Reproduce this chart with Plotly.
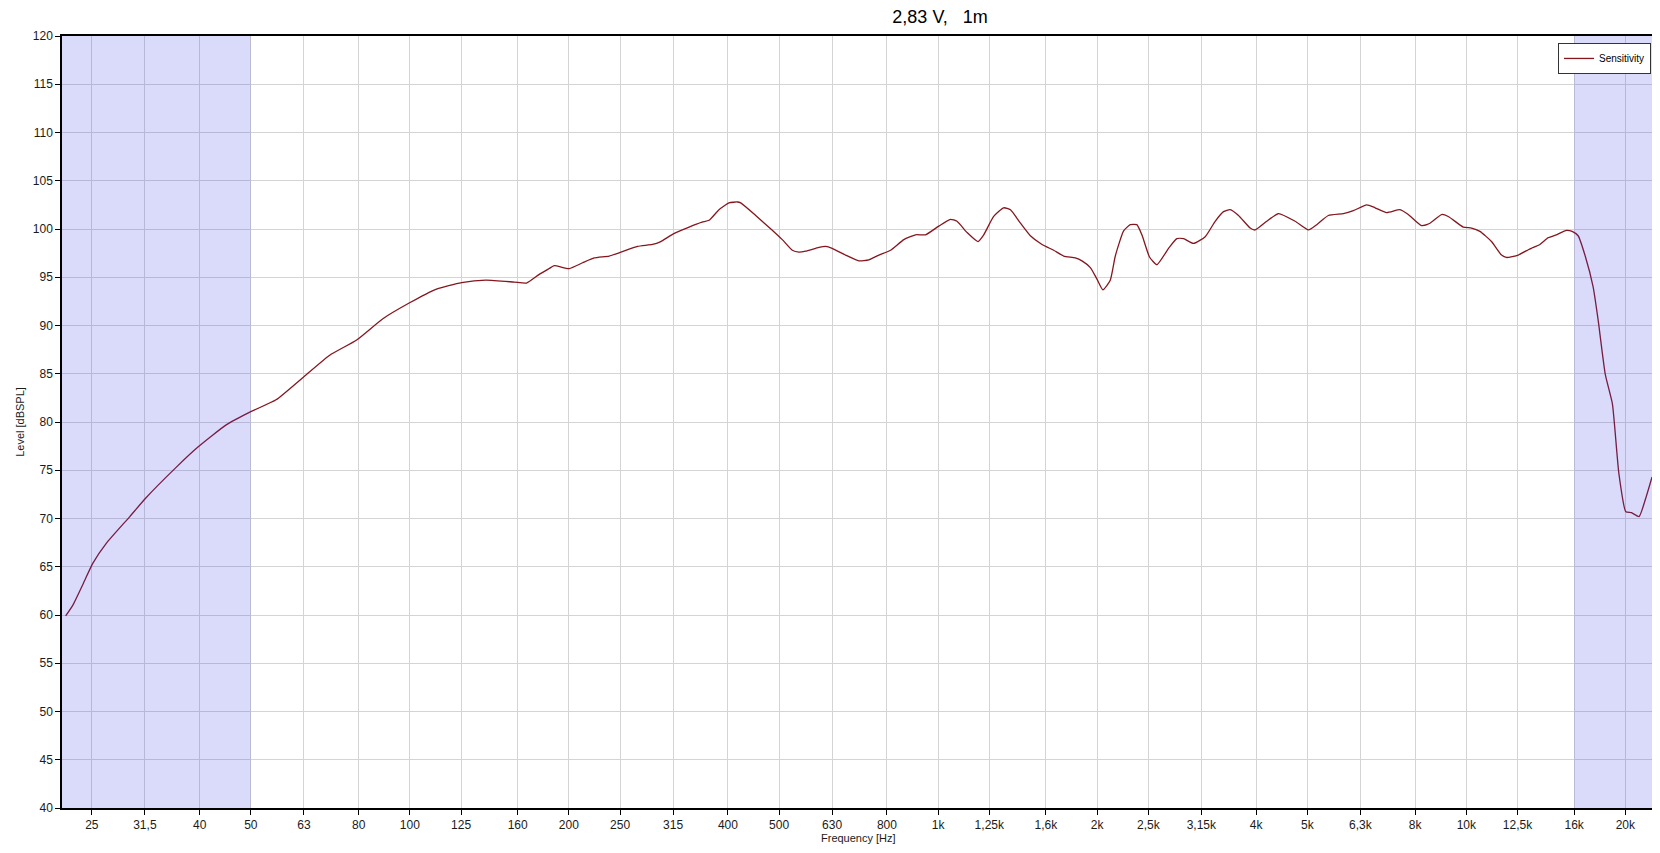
import math
import plotly.graph_objects as go

# ---- data ----
freq_hz = [22.3, 23.0, 24.1, 25.1, 26.6, 29.5, 31.6, 36.1, 39.7, 44.9, 50.1, 55.8, 63, 70.4, 79.3,
           88.9, 99.5, 112, 125.3, 139.3, 157.6, 166.3, 175.8, 183.5, 187.6, 200.3, 212.3, 223.3,
           238.4, 250.9, 269.7, 287.9, 298.5, 315.4, 337.8, 357.4, 368.5, 384.8, 402, 416.8, 423,
           451.5, 484.8, 507, 529.6, 545.3, 561.4, 594.9, 612.5, 630.2, 668, 707.9, 739.4, 772.4,
           812.8, 861.2, 906.5, 946.7, 1003, 1055, 1086, 1134, 1190, 1220, 1274, 1331, 1371, 1432,
           1495, 1573, 1655, 1729, 1819, 1872, 1942, 1999, 2051, 2118, 2165, 2245, 2311, 2378, 2431,
           2513, 2595, 2731, 2831, 2915, 3044, 3204, 3346, 3470, 3573, 3704, 3897, 3983, 4190, 4410,
           4741, 5024, 5210, 5480, 5851, 6111, 6477, 6718, 7066, 7489, 7765, 8229, 8535, 8976, 9243,
           9866, 10230, 10610, 11160, 11660, 11910, 12540, 13100, 13270, 13780, 14290, 14810, 15470,
           15860, 16280, 16790, 17380, 17760, 18330, 18900, 19440, 20040, 20540, 21230, 21860, 22470]
level_db = [59.9, 61.0, 63.3, 65.35, 67.4, 70.2, 72.1, 75.3, 77.4, 79.7, 81.1, 82.3, 84.7, 86.9, 88.5,
            90.7, 92.3, 93.75, 94.44, 94.7, 94.5, 94.4, 95.3, 95.9, 96.2, 95.9, 96.5, 97.0,
            97.2, 97.6, 98.2, 98.4, 98.7, 99.5, 100.2, 100.7, 100.9, 102.0, 102.7, 102.8, 102.7,
            101.4, 99.9, 98.9, 97.8, 97.6, 97.7, 98.1, 98.2, 98.0, 97.3, 96.7, 96.8, 97.3,
            97.8, 98.9, 99.4, 99.4, 100.3, 101.0, 100.8, 99.65, 98.7, 99.4, 101.3, 102.2, 102.0, 100.6,
            99.3, 98.4, 97.8, 97.2, 97.0, 96.7, 96.0, 94.8, 93.7, 94.7, 97.2, 99.8, 100.45, 100.45, 99.4,
            97.1, 96.3, 98.0, 99.0, 99.0, 98.5, 99.2, 100.8, 101.8, 102.0, 101.4, 100.1, 99.9, 100.8, 101.6,
            100.8, 99.9, 100.45, 101.4, 101.6, 101.9, 102.5, 102.2, 101.7, 102.0, 101.5, 100.35, 100.6, 101.5, 101.3,
            100.2, 100.1, 99.76, 98.7, 97.3, 97.05, 97.3, 97.85, 98.0, 98.4, 99.1, 99.4, 99.86,
            99.75, 99.3, 97.2, 94.0, 90.6, 84.9, 81.9, 74.7, 70.7, 70.6, 70.2, 72.1, 74.3]

tick_freqs = [25, 31.5, 40, 50, 63, 80, 100, 125, 160, 200, 250, 315, 400, 500, 630, 800,
              1000, 1250, 1600, 2000, 2500, 3150, 4000, 5000, 6300, 8000, 10000, 12500, 16000, 20000]
tick_labels = ["25", "31,5", "40", "50", "63", "80", "100", "125", "160", "200", "250", "315", "400",
               "500", "630", "800", "1k", "1,25k", "1,6k", "2k", "2,5k", "3,15k", "4k", "5k", "6,3k",
               "8k", "10k", "12,5k", "16k", "20k"]
y_ticks = list(range(40, 121, 5))

x_range_hz = [21.95, 22760]
y_range = [40, 120]
shade_low = [x_range_hz[0], 50]
shade_high = [16000, x_range_hz[1]]

FONT = "Liberation Sans, Arial, sans-serif"

fig = go.Figure()
fig.add_trace(go.Scatter(
    x=freq_hz, y=level_db, mode="lines", name="Sensitivity",
    line=dict(color="#85161E", width=1.3, shape="spline", smoothing=0.5),
))

for x0, x1 in (shade_low, shade_high):
    fig.add_shape(type="rect", xref="x", yref="y", x0=x0, x1=x1, y0=y_range[0], y1=y_range[1],
                  fillcolor="rgba(60,60,230,0.19)", line=dict(width=0), layer="above")

axis_common = dict(
    showline=True, linecolor="black", linewidth=1.5, mirror=True,
    showgrid=True, gridcolor="#D4D4D4", gridwidth=1,
    ticks="outside", ticklen=5, tickcolor="black", tickwidth=1,
    tickfont=dict(family=FONT, size=12, color="#1a1a1a"),
    zeroline=False,
)

fig.update_xaxes(
    type="log", range=[math.log10(x_range_hz[0]), math.log10(x_range_hz[1])],
    tickmode="array", tickvals=tick_freqs, ticktext=tick_labels,
    **axis_common,
)
fig.update_yaxes(
    range=y_range, tickmode="array", tickvals=y_ticks,
    title=dict(text="Level [dBSPL]", font=dict(family=FONT, size=11, color="#1a1a1a"), standoff=6),
    **axis_common,
)

fig.add_annotation(text="Frequency [Hz]", xref="paper", yref="paper", x=0.5, y=-0.0385,
                   xanchor="center", yanchor="middle", showarrow=False,
                   font=dict(family=FONT, size=11, color="#1a1a1a"))

# page body has an 8px margin: figure is sized so that it fills the 1660x853 window
fig.update_layout(
    width=1652, height=845,
    margin=dict(l=54, r=3, t=28, b=45),
    paper_bgcolor="white", plot_bgcolor="white",
    title=dict(text="2,83 V,\u00a0\u00a0\u00a01m", font=dict(family=FONT, size=18, color="black"),
               xref="container", x=0.5642, xanchor="center", yref="container", y=0.990, yanchor="middle"),
    showlegend=True,
    legend=dict(x=0.9975, xanchor="right", y=0.991, yanchor="top",
                bgcolor="white", bordercolor="#333333", borderwidth=1,
                font=dict(family=FONT, size=10, color="black"), itemwidth=30,
                tracegroupgap=0),
)

fig.write_html("out.html")
